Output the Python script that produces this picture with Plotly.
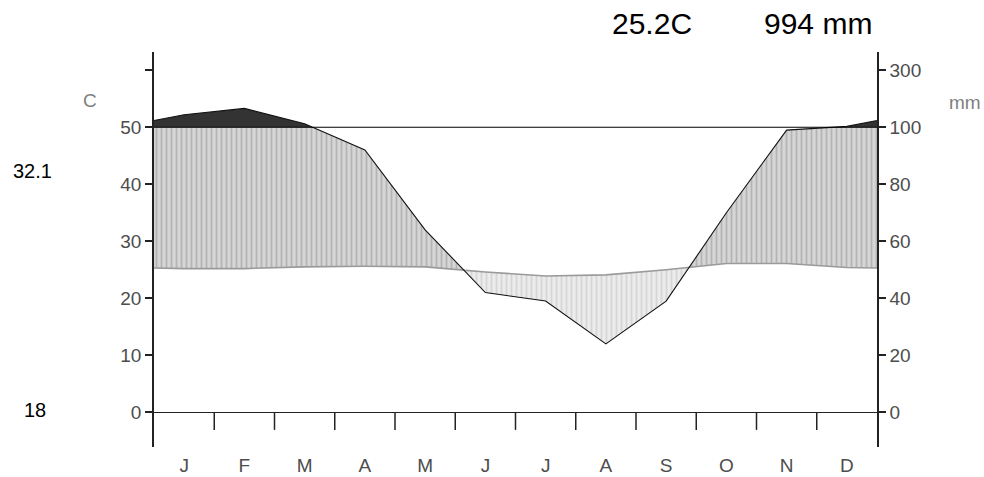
import numpy as np
import plotly.graph_objects as go

# Monthly climate normals
months = ["J", "F", "M", "A", "M", "J", "J", "A", "S", "O", "N", "D"]
temp_c = [25.2, 25.2, 25.5, 25.6, 25.5, 24.6, 23.9, 24.1, 25.0, 26.1, 26.1, 25.4]
precip_mm = [144, 166, 112, 92, 64, 42, 39, 24, 39, 70, 99, 103]
extreme_max_label = "32.1"
extreme_min_label = "18"

temp_ticks = [0, 10, 20, 30, 40, 50, 60]
temp_ticktext = ["0", "10", "20", "30", "40", "50", ""]
precip_ticktext = ["0", "20", "40", "60", "80", "100", "300"]

FONT = "Liberation Sans, Arial, sans-serif"
AXIS_GREY = "#4d4d4d"


def scale_precip(p):
    """Walter-Lieth scale: 2 mm per degree up to 100 mm, 20 mm per degree above."""
    p = np.asarray(p, dtype=float)
    return np.where(p <= 100, p / 2.0, 50 + (p - 100) / 20.0)


# Month centres, padded with the neighbouring month on each side so the
# curves run to the plot edges (the axis range clips them).
xm = np.arange(12) + 0.5
x_ext = np.concatenate([[xm[0] - 1], xm, [xm[-1] + 1]])
t_ext = np.array([temp_c[-1]] + temp_c + [temp_c[0]])
p_ext = scale_precip([precip_mm[-1]] + precip_mm + [precip_mm[0]])
wet_limit = float(scale_precip(100))


def crossings(x, a, b):
    d = np.asarray(a) - np.asarray(b)
    out = []
    for i in range(len(x) - 1):
        if d[i] * d[i + 1] < 0:
            f = d[i] / (d[i] - d[i + 1])
            out.append(x[i] + f * (x[i + 1] - x[i]))
    return out


# Add the break points where the two polylines cross each other or the
# 100 mm level, so each shaded band follows the curves exactly.
grid = np.array(sorted(set(x_ext.tolist())
                       | set(crossings(x_ext, p_ext, t_ext))
                       | set(crossings(x_ext, p_ext, np.full_like(p_ext, wet_limit)))))
tg = np.interp(grid, x_ext, t_ext)
pg = np.interp(grid, x_ext, p_ext)

fig = go.Figure()


def band(lower, upper, **fill):
    fig.add_trace(go.Scatter(x=grid, y=lower, mode="lines", line=dict(width=0),
                             hoverinfo="skip", showlegend=False))
    fig.add_trace(go.Scatter(x=grid, y=upper, mode="lines", line=dict(width=0),
                             fill="tonexty", hoverinfo="skip", showlegend=False, **fill))


# Dry season (precipitation below temperature)
band(np.minimum(pg, tg), tg,
     fillcolor="#ececec",
     fillpattern=dict(shape="|", bgcolor="#ececec", fgcolor="#d6d6d6",
                      size=5, solidity=0.35, fillmode="replace"))
# Humid season
band(tg, np.maximum(tg, np.minimum(pg, wet_limit)),
     fillcolor="#d4d4d4",
     fillpattern=dict(shape="|", bgcolor="#d6d6d6", fgcolor="#b4b4b4",
                      size=5, solidity=0.35, fillmode="replace"))
# Very humid (above 100 mm)
band(np.full_like(grid, wet_limit), np.maximum(pg, wet_limit), fillcolor="#333333")

# 100 mm reference line
fig.add_trace(go.Scatter(x=[0, 12], y=[wet_limit, wet_limit], mode="lines",
                         line=dict(color="black", width=1.2), yaxis="y2",
                         hoverinfo="skip", showlegend=False))

# Temperature and precipitation curves
fig.add_trace(go.Scatter(x=x_ext, y=t_ext, mode="lines",
                         line=dict(color="#9a9a9a", width=1.6),
                         hoverinfo="skip", showlegend=False))
fig.add_trace(go.Scatter(x=x_ext, y=p_ext, mode="lines",
                         line=dict(color="#111111", width=1.1),
                         hoverinfo="skip", showlegend=False))

# Month boundary ticks hanging from the zero line
bounds = np.arange(1, 12)
tick_x, tick_y = [], []
for b in bounds:
    tick_x += [b, b, None]
    tick_y += [0, -3.1, None]
fig.add_trace(go.Scatter(x=tick_x, y=tick_y, mode="lines",
                         line=dict(color="#222222", width=1.5),
                         hoverinfo="skip", showlegend=False, cliponaxis=False))

yrange = [-6.1, 63.2]
axis_common = dict(range=yrange, tickvals=temp_ticks, ticks="outside", ticklen=7,
                   tickwidth=1.5, tickcolor="#222222", showline=True,
                   linewidth=1.5, linecolor="#222222", showgrid=False,
                   automargin=False,
                   tickfont=dict(family=FONT, size=19, color=AXIS_GREY))

fig.update_layout(
    width=984, height=477,
    margin=dict(l=154, r=107, t=52, b=30, autoexpand=False),
    paper_bgcolor="white", plot_bgcolor="white",
    xaxis=dict(range=[0, 12], tickvals=xm, ticktext=months, ticks="",
               showline=False, showgrid=False, zeroline=False,
               automargin=False, ticklabelstandoff=5,
               tickfont=dict(family=FONT, size=19, color=AXIS_GREY)),
    yaxis=dict(ticktext=temp_ticktext, zeroline=True, zerolinecolor="#222222",
               zerolinewidth=1.4, **axis_common),
    yaxis2=dict(ticktext=precip_ticktext, overlaying="y", side="right",
                zeroline=False, **axis_common),
)

ann_font = dict(family=FONT, color="black")
annotations = [
    dict(text="C", x=-0.0885, y=0.876, font=dict(family=FONT, size=19, color="#7f7f7f")),
    dict(text="mm", x=1.1217, y=0.871, font=dict(family=FONT, size=19, color="#7f7f7f")),
    dict(text=extreme_max_label, x=-0.1674, y=0.699, font=dict(size=20, **ann_font)),
    dict(text=extreme_min_label, x=-0.1646, y=0.0937, font=dict(size=20, **ann_font)),
    dict(text=f"{np.mean(temp_c):.1f}C", x=0.6888, y=1.0709, font=dict(size=30, **ann_font)),
    dict(text=f"{sum(precip_mm)} mm", x=0.9184, y=1.0709, font=dict(size=30, **ann_font)),
]
for a in annotations:
    fig.add_annotation(xref="paper", yref="paper", showarrow=False,
                       xanchor="center", yanchor="middle", **a)

fig.write_html("out.html")
